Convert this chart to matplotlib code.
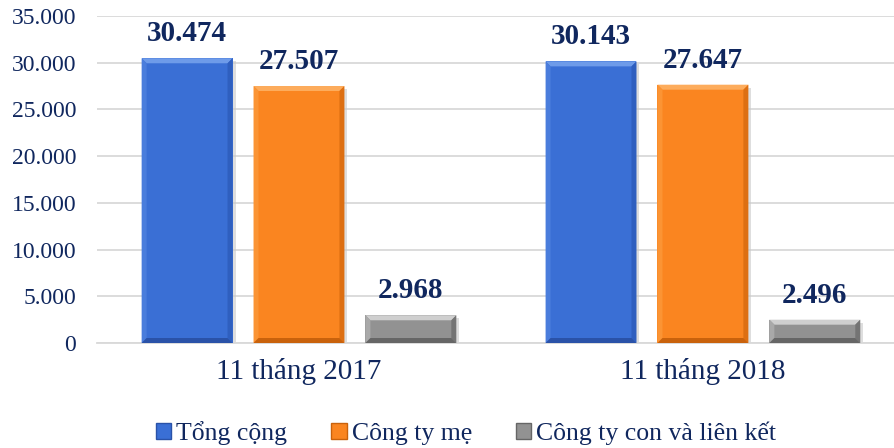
import numpy as np
import matplotlib
matplotlib.use("Agg")
import matplotlib.pyplot as plt
from matplotlib.patches import Polygon, Patch
from matplotlib.ticker import FuncFormatter


# ============================================================
# DATA
# ============================================================

CATEGORIES = ["11 tháng 2017", "11 tháng 2018"]
SERIES = ["Tổng cộng", "Công ty mẹ", "Công ty con và liên kết"]

TONG_CONG = [30474, 30143]
CONG_TY_ME = [27507, 27647]
CONG_TY_CON = [2968, 2496]

VALUE_LABELS = [["30.474", "30.143"], ["27.507", "27.647"], ["2.968", "2.496"]]


# ============================================================
# STYLE
# ============================================================

TEXT_COLOR = "#10275e"
GRID_COLOR = "#d9d9d9"

# face, top, left, right, bottom
SHADES = [
    ["#3a6fd5", "#6e9be9", "#4a7ddc", "#2f5fbf", "#2a52a8"],
    ["#fa8520", "#fdac5c", "#fb9434", "#dd6f12", "#c9620c"],
    ["#929292", "#cfcfcf", "#a9a9a9", "#747474", "#666666"],
]

plt.rcParams["font.family"] = ["Liberation Serif", "DejaVu Serif"]

OUT = "out.png"


# ============================================================
# PLOT
# ============================================================

fig = plt.figure(figsize=(8.94, 4.48), dpi=100)
ax = fig.add_axes([97 / 894, 105 / 448, 1 - 97 / 894, (343 - 16) / 448])

x = np.arange(len(CATEGORIES))
width = 0.225
offsets = [-0.277, 0.0, 0.277]
values = [TONG_CONG, CONG_TY_ME, CONG_TY_CON]

ax.set_xlim(-0.5, 1.473)
ax.set_ylim(0, 35000)

bar_groups = []
for i, vals in enumerate(values):
    bars = ax.bar(x + offsets[i], vals, width, color=SHADES[i][0],
                  edgecolor="none", zorder=3)
    bar_groups.append(bars)

# bevel effect, built in pixels from each bar's own extent
inv = ax.transData.inverted()
b = 5
for i, bars in enumerate(bar_groups):
    face, top, left, right, bottom = SHADES[i]
    for p in bars:
        (x0, y0), (x1, y1) = ax.transData.transform(
            [(p.get_x(), p.get_y()), (p.get_x() + p.get_width(), p.get_y() + p.get_height())])
        bb = min(b, (y1 - y0) / 2.2)
        pieces = [
            (top, [(x0, y1), (x1, y1), (x1 - bb, y1 - bb), (x0 + bb, y1 - bb)]),
            (left, [(x0, y0), (x0, y1), (x0 + bb, y1 - bb), (x0 + bb, y0 + bb)]),
            (right, [(x1, y0), (x1, y1), (x1 - bb, y1 - bb), (x1 - bb, y0 + bb)]),
            (bottom, [(x0, y0), (x1, y0), (x1 - bb, y0 + bb), (x0 + bb, y0 + bb)]),
        ]
        for col, pts in pieces:
            ax.add_patch(Polygon(inv.transform(pts), closed=True, facecolor=col,
                                 edgecolor="none", zorder=4))
        # soft shadow on the right
        sh = inv.transform([(x1, y0 - 2), (x1 + 3, y0 - 2), (x1 + 3, y1 - 3), (x1, y1 - 3)])
        ax.add_patch(Polygon(sh, closed=True, facecolor="#c8c8c8", edgecolor="none",
                             alpha=0.6, zorder=2))

    for j, p in enumerate(bars):
        ax.annotate(VALUE_LABELS[i][j],
                    (p.get_x() + p.get_width() / 2, p.get_height()),
                    xytext=(0, 8), textcoords="offset points",
                    ha="center", va="bottom", fontsize=21, fontweight="bold",
                    color=TEXT_COLOR, zorder=5)

ax.set_yticks(np.arange(0, 35001, 5000))
ax.yaxis.set_major_formatter(FuncFormatter(lambda v, pos: f"{int(v):,}".replace(",", ".")))
ax.set_xticks(x)
ax.set_xticklabels(CATEGORIES)

ax.grid(axis="y", color=GRID_COLOR, linewidth=1.3, zorder=0)
ax.set_axisbelow(True)
for s in ["top", "right", "left"]:
    ax.spines[s].set_visible(False)
ax.spines["bottom"].set_color(GRID_COLOR)
ax.spines["bottom"].set_linewidth(1.3)

ax.tick_params(axis="y", length=0, pad=15, labelsize=17, labelcolor=TEXT_COLOR)
ax.tick_params(axis="x", length=0, pad=11, labelsize=21, labelcolor=TEXT_COLOR)

handles = [Patch(facecolor=SHADES[i][0], edgecolor=SHADES[i][4], label=SERIES[i])
           for i in range(len(SERIES))]
leg = fig.legend(handles=handles, loc="center", bbox_to_anchor=(466 / 894, 1 - 433 / 448),
                 ncol=3, frameon=False, fontsize=18.5, handlelength=0.6, handleheight=0.6,
                 handletextpad=0.2, columnspacing=1.7)
for t in leg.get_texts():
    t.set_color(TEXT_COLOR)

fig.savefig(OUT, dpi=100)
